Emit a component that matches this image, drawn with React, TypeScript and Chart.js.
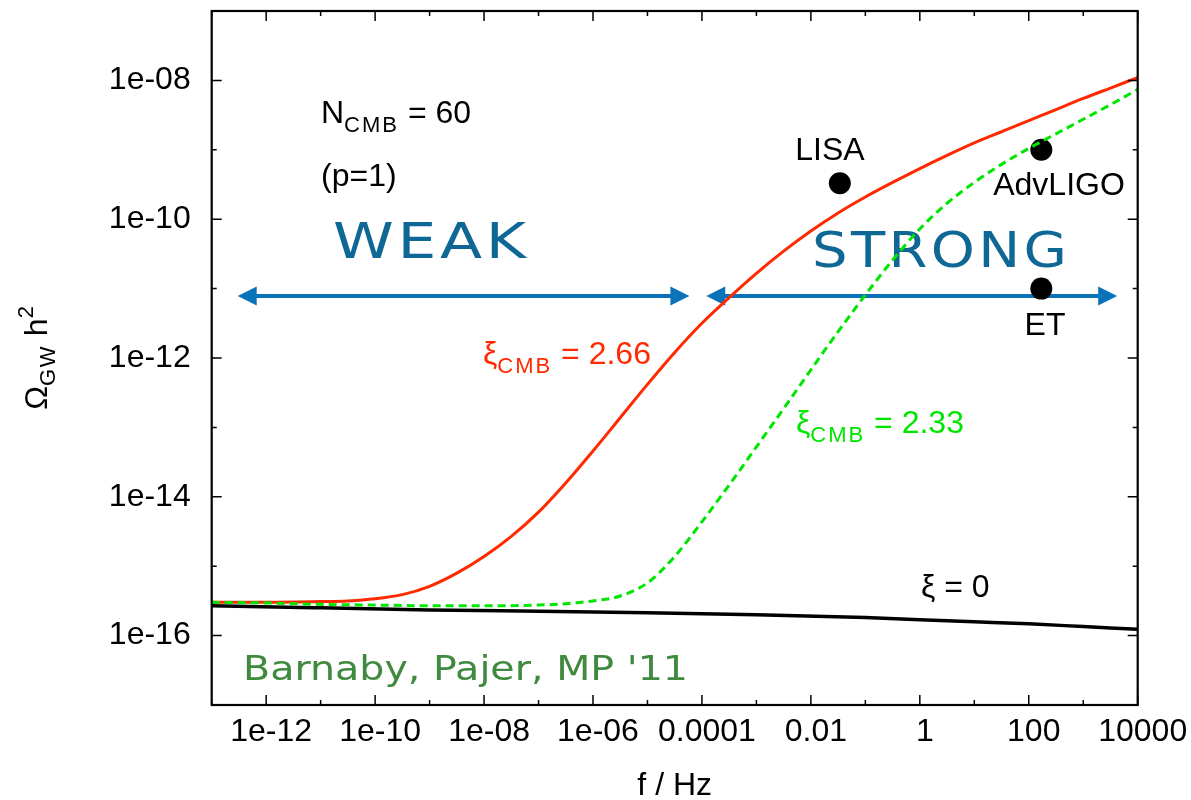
import React, { useEffect, useRef } from "react";
import { Chart, registerables } from "chart.js";

Chart.register(...registerables);

// ---- axis ticks (decade exponents and their labels) ----
const xTickExponents = [-13, -12, -11, -10, -9, -8, -7, -6, -5, -4, -3, -2, -1, 0, 1, 2, 3, 4];
const xTickLabels = ["", "1e-12", "", "1e-10", "", "1e-08", "", "1e-06", "", "0.0001", "", "0.01", "", "1", "", "100", "", "10000"];
const yTickExponents = [-17, -16, -15, -14, -13, -12, -11, -10, -9, -8, -7];
const yTickLabels = ["", "1e-16", "", "1e-14", "", "1e-12", "", "1e-10", "", "1e-08", ""];

// ---- series: log10(f/Hz) and log10(Omega_GW h^2) ----
const redLogF = [-13, -12, -11, -10.5, -10, -9.5, -9, -8.5, -8, -7.5, -7, -6.5, -6, -5.5, -5, -4.5, -4, -3.5, -3, -2.5, -2, -1.5, -1, -0.5, 0, 0.5, 1, 1.5, 2, 2.5, 3, 3.5, 4];
const redLogOmega = [-15.52, -15.52, -15.51, -15.5, -15.47, -15.41, -15.29, -15.1, -14.86, -14.57, -14.22, -13.8, -13.34, -12.86, -12.38, -11.92, -11.5, -11.13, -10.78, -10.46, -10.17, -9.91, -9.68, -9.47, -9.27, -9.08, -8.9, -8.74, -8.58, -8.42, -8.26, -8.11, -7.96];

const greenLogF = [-13, -12, -11, -10, -9, -8, -7, -6.5, -6, -5.5, -5, -4.5, -4, -3.5, -3, -2.5, -2, -1.5, -1, -0.5, 0, 0.5, 1, 1.5, 2, 2.5, 3, 3.5, 4];
const greenLogOmega = [-15.52, -15.53, -15.55, -15.56, -15.57, -15.57, -15.56, -15.54, -15.5, -15.43, -15.24, -14.86, -14.36, -13.83, -13.28, -12.73, -12.17, -11.62, -11.09, -10.59, -10.14, -9.77, -9.47, -9.21, -8.98, -8.77, -8.56, -8.35, -8.13];

const blackLogF = [-13, -11, -9, -7, -5, -3, -1, 0, 1, 2, 3, 4];
const blackLogOmega = [-15.57, -15.6, -15.63, -15.65, -15.67, -15.7, -15.74, -15.77, -15.8, -15.83, -15.87, -15.91];

// ---- detectors ----
const detectorNames = ["LISA", "AdvLIGO", "ET"];
const detectorFreq = [0.034, 170, 170];
const detectorOmega = [3.3e-10, 1e-9, 1e-11];

// ---- regime arrows (data coordinates) ----
const arrowNames = ["WEAK", "STRONG"];
const arrowFrom = [3.0e-13, 1.2e-4];
const arrowTo = [5.9e-5, 4.2e3];
const arrowLevel = 7.8e-12;

const SANS = '"Liberation Sans", Arial, Helvetica, sans-serif';
const WIDE = '"DejaVu Sans", Verdana, sans-serif';

const RED = "#ff2a00";
const GREEN = "#00e600";
const BLUE = "#0a72b8";
const DARKBLUE = "#0e6795";
const FS = 32;
const SUB = 22;

type Part = { t: string; size: number; dy?: number; ls?: number };

function setLS(ctx: any, v: number) {
  if ("letterSpacing" in ctx) ctx.letterSpacing = `${v}px`;
}

function drawRich(ctx: CanvasRenderingContext2D, parts: Part[], x: number, y: number, color: string, align: "left" | "center") {
  const widths = parts.map((p) => {
    ctx.font = `${p.size}px ${SANS}`;
    setLS(ctx, p.ls || 0);
    return ctx.measureText(p.t).width;
  });
  const total = widths.reduce((a, b) => a + b, 0);
  let cx = align === "center" ? x - total / 2 : x;
  ctx.fillStyle = color;
  ctx.textAlign = "left";
  ctx.textBaseline = "alphabetic";
  parts.forEach((p, i) => {
    ctx.font = `${p.size}px ${SANS}`;
    setLS(ctx, p.ls || 0);
    ctx.fillText(p.t, cx, y + (p.dy || 0));
    cx += widths[i];
  });
  setLS(ctx, 0);
}

function drawFit(ctx: CanvasRenderingContext2D, text: string, x: number, y: number, font: string, ls: number, target: number, color: string) {
  ctx.save();
  ctx.font = font;
  setLS(ctx, ls);
  const w = ctx.measureText(text).width - ls;
  ctx.translate(x, y);
  ctx.scale(target / w, 1);
  ctx.fillStyle = color;
  ctx.textAlign = "left";
  ctx.textBaseline = "alphabetic";
  ctx.fillText(text, 0, 0);
  setLS(ctx, 0);
  ctx.restore();
}

const decorPlugin = {
  id: "decor",
  beforeDatasetsDraw(chart: any) {
    const ctx: CanvasRenderingContext2D = chart.ctx;
    const xs = chart.scales.x;
    const ys = chart.scales.y;
    ctx.save();
    // arrows
    const yA = ys.getPixelForValue(arrowLevel);
    const headL = 19;
    const headH = 9.5;
    ctx.strokeStyle = BLUE;
    ctx.fillStyle = BLUE;
    ctx.lineWidth = 4;
    arrowNames.forEach((_, i) => {
      const x1 = xs.getPixelForValue(arrowFrom[i]);
      const x2 = xs.getPixelForValue(arrowTo[i]);
      ctx.beginPath();
      ctx.moveTo(x1 + headL - 2, yA);
      ctx.lineTo(x2 - headL + 2, yA);
      ctx.stroke();
      ctx.beginPath();
      ctx.moveTo(x1, yA);
      ctx.lineTo(x1 + headL, yA - headH);
      ctx.lineTo(x1 + headL, yA + headH);
      ctx.closePath();
      ctx.fill();
      ctx.beginPath();
      ctx.moveTo(x2, yA);
      ctx.lineTo(x2 - headL, yA - headH);
      ctx.lineTo(x2 - headL, yA + headH);
      ctx.closePath();
      ctx.fill();
    });

    // regime words
    drawFit(ctx, "WEAK", 333, 258, `50px ${WIDE}`, 3, 193, DARKBLUE);
    drawFit(ctx, "STRONG", 812, 267, `50px ${WIDE}`, 3, 255, DARKBLUE);

    // parameter notes
    drawRich(ctx, [{ t: "N", size: FS }, { t: "CMB", size: SUB, dy: 9, ls: 2 }, { t: " = 60", size: FS }], 321, 123, "#000", "left");
    drawRich(ctx, [{ t: "(p=1)", size: FS }], 321, 186, "#000", "left");

    // detector names
    drawRich(ctx, [{ t: detectorNames[0], size: FS }], 830, 160, "#000", "center");
    drawRich(ctx, [{ t: detectorNames[1], size: FS }], 1059, 195, "#000", "center");
    drawRich(ctx, [{ t: detectorNames[2], size: FS }], 1045, 335, "#000", "center");

    // curve labels
    drawRich(ctx, [{ t: "ξ", size: FS }, { t: "CMB", size: SUB, dy: 9, ls: 2 }, { t: " = 2.66", size: FS }], 483, 364, RED, "left");
    drawRich(ctx, [{ t: "ξ", size: FS }, { t: "CMB", size: SUB, dy: 9, ls: 2 }, { t: " = 2.33", size: FS }], 796, 433, GREEN, "left");
    drawRich(ctx, [{ t: "ξ = 0", size: FS }], 921, 597, "#000", "left");

    // reference
    drawFit(ctx, "Barnaby, Pajer, MP '11", 243, 680, `34px ${WIDE}`, 0, 445, "#408a40");

    ctx.restore();
  },
  afterDatasetsDraw(chart: any) {
    const ctx: CanvasRenderingContext2D = chart.ctx;
    const { left, right, top, bottom } = chart.chartArea;
    const xs = chart.scales.x;
    const ys = chart.scales.y;
    ctx.save();
    ctx.strokeStyle = "#000";
    ctx.lineWidth = 1.5;
    xTickExponents.forEach((e, i) => {
      const px = xs.getPixelForValue(Math.pow(10, e));
      const len = xTickLabels[i] ? 10 : 5;
      ctx.beginPath();
      ctx.moveTo(px, bottom);
      ctx.lineTo(px, bottom - len);
      ctx.moveTo(px, top);
      ctx.lineTo(px, top + len);
      ctx.stroke();
    });
    yTickExponents.forEach((e, i) => {
      const py = ys.getPixelForValue(Math.pow(10, e));
      const len = yTickLabels[i] ? 10 : 5;
      ctx.beginPath();
      ctx.moveTo(left, py);
      ctx.lineTo(left + len, py);
      ctx.moveTo(right, py);
      ctx.lineTo(right - len, py);
      ctx.stroke();
    });
    ctx.lineWidth = 2.2;
    ctx.strokeRect(left, top, right - left, bottom - top);

    // axis titles
    drawRich(ctx, [{ t: "f / Hz", size: FS }], (left + right) / 2, 795, "#000", "center");
    ctx.save();
    ctx.translate(47, (top + bottom) / 2);
    ctx.rotate(-Math.PI / 2);
    drawRich(
      ctx,
      [
        { t: "Ω", size: FS },
        { t: "GW", size: SUB, dy: 8, ls: 1.5 },
        { t: " h", size: FS },
        { t: "2", size: SUB, dy: -14 },
      ],
      0,
      0,
      "#000",
      "center"
    );
    ctx.restore();
    ctx.restore();
  },
};

function toPoints(logF: number[], logO: number[]) {
  return logF.map((f, i) => ({ x: Math.pow(10, f), y: Math.pow(10, logO[i]) }));
}

export default function App() {
  const ref = useRef<HTMLCanvasElement>(null);
  useEffect(() => {
    document.body.style.margin = "0";
    const chart = new Chart(ref.current as HTMLCanvasElement, {
      type: "line",
      data: {
        datasets: [
          {
            label: "xi_CMB = 2.33",
            data: toPoints(greenLogF, greenLogOmega),
            borderColor: GREEN,
            borderWidth: 3,
            borderDash: [8, 5],
            pointRadius: 0,
            cubicInterpolationMode: "monotone",
          },
          {
            label: "xi_CMB = 2.66",
            data: toPoints(redLogF, redLogOmega),
            borderColor: RED,
            borderWidth: 3,
            pointRadius: 0,
            cubicInterpolationMode: "monotone",
          },
          {
            label: "xi = 0",
            data: toPoints(blackLogF, blackLogOmega),
            borderColor: "#000",
            borderWidth: 3.5,
            pointRadius: 0,
            cubicInterpolationMode: "monotone",
          },
          {
            label: "detectors",
            data: detectorFreq.map((f, i) => ({ x: f, y: detectorOmega[i] })),
            showLine: false,
            pointRadius: 11,
            pointBackgroundColor: "#000",
            pointBorderWidth: 0,
            borderColor: "#000",
          },
        ] as any,
      },
      options: {
        responsive: false,
        maintainAspectRatio: false,
        devicePixelRatio: 1,
        animation: false,
        events: [],
        layout: { padding: { left: 0, top: 9.5, right: 53.3, bottom: 0 } },
        plugins: { legend: { display: false }, tooltip: { enabled: false }, title: { display: false } },
        scales: {
          x: {
            type: "logarithmic",
            position: "bottom",
            min: 1e-13,
            max: 1e4,
            grid: { display: false, drawTicks: false },
            border: { display: false },
            afterBuildTicks: (s: any) => {
              s.ticks = xTickExponents.map((e) => ({ value: Math.pow(10, e) }));
            },
            afterFit: (s: any) => {
              s.height = 95;
              s.paddingLeft = 0;
              s.paddingRight = 0;
              s.paddingTop = 0;
              s.paddingBottom = 0;
            },
            ticks: {
              autoSkip: false,
              maxRotation: 0,
              minRotation: 0,
              padding: 8,
              labelOffset: 5,
              color: "#000",
              font: { family: SANS, size: FS },
              callback: (_v: any, i: number) => xTickLabels[i] ?? "",
            },
          },
          y: {
            type: "logarithmic",
            position: "left",
            min: 1e-17,
            max: 1e-7,
            grid: { display: false, drawTicks: false },
            border: { display: false },
            afterBuildTicks: (s: any) => {
              s.ticks = yTickExponents.map((e) => ({ value: Math.pow(10, e) }));
            },
            afterFit: (s: any) => {
              s.width = 211.7;
              s.paddingLeft = 0;
              s.paddingRight = 0;
              s.paddingTop = 0;
              s.paddingBottom = 0;
            },
            ticks: {
              autoSkip: false,
              padding: 21,
              color: "#000",
              font: { family: SANS, size: FS },
              callback: (_v: any, i: number) => yTickLabels[i] ?? "",
            },
          },
        },
      } as any,
      plugins: [decorPlugin],
    });
    return () => chart.destroy();
  }, []);
  return (
    <div style={{ position: "absolute", left: 0, top: 0, width: 1191, height: 800, background: "#fff" }}>
      <canvas ref={ref} width={1191} height={800} style={{ display: "block", width: 1191, height: 800 }} />
    </div>
  );
}
